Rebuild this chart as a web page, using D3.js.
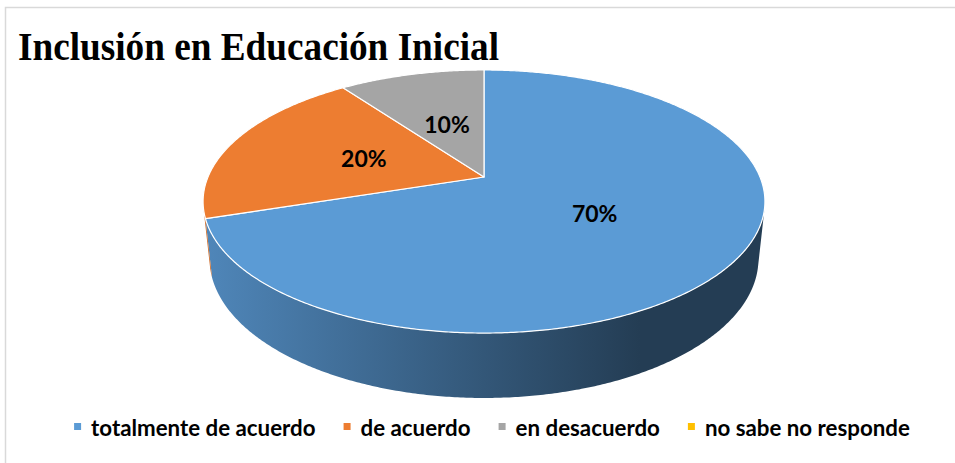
<!DOCTYPE html>
<html>
<head>
<meta charset="utf-8">
<script src="https://cdn.jsdelivr.net/npm/d3@7"></script>
<style>
  body { margin: 0; background: #fff; }
  svg { display: block; }
</style>
</head>
<body>
<div id="chart"></div>
<script>
// chart data
const title = "Inclusión en Educación Inicial";
const categories = ["totalmente de acuerdo", "de acuerdo", "en desacuerdo", "no sabe no responde"];
const values = [70, 20, 10, 0];
const labels = ["70%", "20%", "10%", ""];
const palette = ["#5B9BD5", "#ED7D31", "#A5A5A5", "#FFC000"];

const width = 955, height = 463;

const svg = d3.select("#chart").append("svg")
    .attr("width", width)
    .attr("height", height);

// chart frame (only top and left edges show in the picture)
svg.append("rect")
    .attr("x", 5.5).attr("y", 7.5)
    .attr("width", 1000).attr("height", 500)
    .attr("fill", "none")
    .attr("stroke", "#d9d9d9")
    .attr("stroke-width", 1.5);

svg.append("text")
    .attr("x", 18).attr("y", 60)
    .attr("font-family", "Liberation Serif, Times New Roman, serif")
    .attr("font-weight", "bold")
    .attr("font-size", 41)
    .attr("textLength", 481)
    .attr("lengthAdjust", "spacingAndGlyphs")
    .attr("fill", "#000")
    .text(title);

const color = d3.scaleOrdinal().domain(categories).range(palette);

// 3D perspective projection of a tilted disc
const cx = 484, cy = 177;   // screen position of the pie centre
const k = 276;              // radius on screen at centre depth
const sinT = 0.46, cosT = 0.888; // tilt of the view
const a = 0.21;             // radius / camera distance
const thick = 0.236;        // wall height in radii

function project(theta, rho, bottom) {
    const yw = bottom ? -thick : 0;
    const depth = 1 + a * (-yw * sinT + rho * cosT * Math.cos(theta));
    const up = yw * cosT + rho * sinT * Math.cos(theta);
    return [cx + k * rho * Math.sin(theta) / depth, cy - k * up / depth];
}

const pie = d3.pie().sort(null).value(d => d.value);
const arcs = pie(categories.map((c, i) => ({ name: c, value: values[i], label: labels[i] })))
    .filter(d => d.value > 0);

const step = Math.PI / 360;
function rim(t0, t1, rho, bottom) {
    const pts = [];
    const n = Math.max(2, Math.ceil((t1 - t0) / step));
    for (let i = 0; i <= n; i++) pts.push(project(t0 + (t1 - t0) * i / n, rho, bottom));
    return pts;
}

const line = d3.line();
const defs = svg.append("defs");

// walls: only the part facing the viewer
const visMin = Math.acos(-a / cosT), visMax = 2 * Math.PI - visMin;
const walls = svg.append("g");
arcs.forEach((d, i) => {
    const t0 = Math.max(d.startAngle, visMin), t1 = Math.min(d.endAngle, visMax);
    if (t1 <= t0) return;
    const base = d3.color(color(d.data.name));
    const gid = "wall" + i;
    const g = defs.append("linearGradient")
        .attr("id", gid)
        .attr("gradientUnits", "userSpaceOnUse")
        .attr("x1", 206).attr("x2", 640).attr("y1", 0).attr("y2", 0);
    g.append("stop").attr("offset", "0%").attr("stop-color", base.darker(0.4));
    g.append("stop").attr("offset", "50%").attr("stop-color", base.darker(1.3));
    g.append("stop").attr("offset", "100%").attr("stop-color", base.darker(2.6));
    const pts = rim(t0, t1, 1, false).concat(rim(t0, t1, 1, true).reverse());
    walls.append("path")
        .attr("d", line(pts) + "Z")
        .attr("fill", `url(#${gid})`);
});

// top faces
const tops = svg.append("g");
arcs.forEach(d => {
    const pts = [project(0, 0, false)].concat(rim(d.startAngle, d.endAngle, 1, false));
    tops.append("path")
        .attr("d", line(pts) + "Z")
        .attr("fill", color(d.data.name))
        .attr("stroke", "#fff")
        .attr("stroke-width", 1.2)
        .attr("stroke-linejoin", "round");
});

// data labels
svg.append("g").selectAll("text")
    .data(arcs)
    .join("text")
    .attr("x", d => project((d.startAngle + d.endAngle) / 2, 0.47, false)[0])
    .attr("y", d => project((d.startAngle + d.endAngle) / 2, 0.47, false)[1])
    .attr("dy", "0.36em")
    .attr("text-anchor", "middle")
    .attr("font-family", "Lato, Carlito, Calibri, sans-serif")
    .attr("font-weight", "bold")
    .attr("font-size", 23)
    .attr("fill", "#000")
    .text(d => d.data.label);

// legend
const legend = svg.append("g");
const items = legend.selectAll("g")
    .data(categories)
    .join("g");
items.append("rect")
    .attr("width", 7).attr("height", 7)
    .attr("y", 423)
    .attr("fill", d => color(d));
items.append("text")
    .attr("x", 17).attr("y", 436)
    .attr("font-family", "Lato, Carlito, Calibri, sans-serif")
    .attr("font-weight", "bold")
    .attr("font-size", 22.3)
    .attr("fill", "#000")
    .text(d => d);

let xPos = 0;
const offsets = [];
items.each(function() {
    offsets.push(xPos);
    xPos += 17 + d3.select(this).select("text").node().getComputedTextLength() + 28;
});
const total = xPos - 28;
const start = 492 - total / 2;
items.attr("transform", (d, i) => `translate(${start + offsets[i]},0)`);
</script>
</body>
</html>
